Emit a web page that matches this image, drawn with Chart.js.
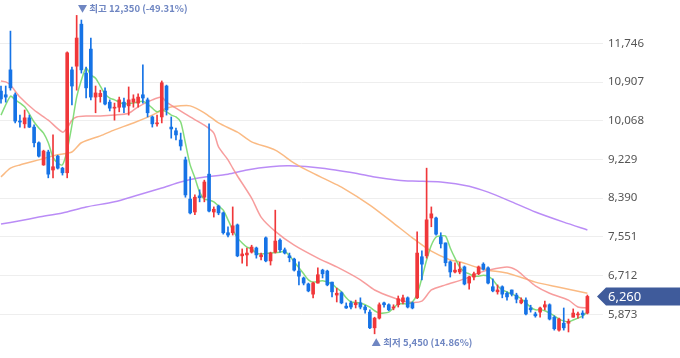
<!DOCTYPE html>
<html>
<head>
<meta charset="utf-8">
<script src="https://cdn.jsdelivr.net/npm/chart.js@4"></script>
<style>
html, body { margin: 0; padding: 0; background: #fff; }
</style>
</head>
<body>
<canvas id="myChart-candle" width="680" height="358"></canvas>
<script>
// 일봉 시가/고가/저가/종가
var candleOpen = [10710,10630,11170,10630,10060,10000,10130,9930,9590,9110,9390,9000,9300,9040,8940,11170,11250,12160,11100,11620,
	10580,10590,10710,10470,10340,10360,10470,10390,10470,10450,10630,10520,10150,10000,10150,10820,9930,9850,9650,9220,
	8370,8090,8440,8410,8910,8090,8220,8070,7640,7640,7810,7140,7160,7220,7310,7120,7530,7030,7220,7480,
	7270,7140,7070,6810,6660,6530,6310,6550,6830,6810,6570,6290,6340,6050,6120,6080,6120,6030,5920,5580,
	5790,6120,6080,6010,6080,6140,6230,6120,6230,7120,7140,7960,7960,7550,7420,7010,6790,6790,6900,6550,
	6680,6750,6960,6880,6470,6360,6470,6330,6400,6290,6120,6180,6010,5880,5920,6030,6080,5810,5530,5680,
	5680,5810,5860,5900,5900];
var candleHigh = [10820,10820,12010,10670,10190,10300,10190,9980,9610,9430,9430,9760,9320,9060,11560,11230,12350,12250,11230,11860,
	10820,10730,10780,10520,10450,10580,10560,10800,10630,10650,11280,10560,10170,10190,10930,10840,10150,9910,9800,9280,
	8850,8460,8570,8780,10000,8200,8240,8090,7770,8200,7830,7290,7310,7370,7330,7200,7550,7220,8130,7510,
	7310,7200,7090,7010,6680,6550,6570,6880,6850,6830,6570,6440,6360,6120,6160,6180,6230,6070,5970,5810,
	6120,6140,6100,6080,6270,6290,6250,6140,7660,7250,9040,8200,7980,7640,7420,7030,6990,7000,6920,6700,
	6790,6920,6990,6900,6640,6510,6490,6360,6400,6330,6230,6230,6070,5920,6030,6160,6100,5840,5790,6010,
	5770,5990,5920,5950,6290];
var candleLow = [10450,10470,10730,10020,9930,9910,9920,9500,9280,9100,8830,8830,9020,8890,8830,10410,10730,11100,10560,10520,
	10240,10470,10410,10280,10080,10260,10240,10190,10360,10360,10450,10150,9930,9950,10020,10190,9690,9650,9430,8410,
	8050,8030,8310,8310,8090,7980,8030,7610,7550,7590,7120,6980,6920,7200,7090,7050,7010,6940,7200,7220,
	7180,7010,6810,6510,6510,6360,6230,6550,6660,6490,6250,6140,6100,6000,5990,6010,5990,5900,5560,5450,
	5770,6030,5950,5970,6030,6100,6010,5990,6210,6620,7090,7770,7590,7310,6920,6680,6770,6750,6510,6420,
	6620,6730,6830,6530,6360,6310,6230,6180,6270,6120,6100,5860,5920,5810,5810,5970,5750,5530,5510,5530,
	5490,5810,5790,5790,5880];
var candleClose = [10540,10580,10780,10060,10040,10130,9930,9590,9300,9410,8910,9070,9040,8940,11540,10820,11860,11170,10780,10580,
	10670,10660,10430,10340,10360,10520,10360,10520,10540,10580,10560,10240,10000,10020,10890,10300,9890,9760,9520,8460,
	8070,8410,8400,8740,8110,8150,8070,7640,7590,7790,7140,7180,7200,7330,7160,7160,7030,7200,7460,7270,
	7200,7100,6830,6700,6550,6380,6550,6730,6750,6510,6360,6330,6120,6010,6030,6120,6030,5970,5580,5790,
	6080,6080,5970,6030,6210,6230,6030,6010,7200,6960,7920,8050,7610,7400,6990,6790,6830,6850,6530,6680,
	6750,6900,6850,6550,6380,6400,6310,6250,6310,6200,6180,5880,5970,5840,6010,6080,5770,5560,5770,5580,
	5720,5900,5880,5860,6260];

// 이동평균선 (읽은 지점의 일자 번호와 값)
var ma5Idx = [0,2,3,5,7,8,9,10,11,12,13,14,15,16,17,18,19,20,21,22,23,24,26,28,30,31,32,33,34,35,36,37,38,39,40,41,42,43,44,45,
	46,47,48,49,50,51,52,53,54,55,57,59,60,61,62,63,64,65,66,68,70,71,72,73,74,76,78,79,80,81,82,83,84,85,86,87,88,89,90,91,
	92,93,94,95,96,97,98,99,100,101,102,103,104,105,106,107,108,109,110,111,112,113,114,115,116,117,118,119,120,121,122,123,124];
var ma5Val = [10190,10600,10520,10370,10040,9910,9800,9590,9280,9150,9110,9430,9970,10580,10950,11210,11060,10990,10820,10650,10560,10520,10430,10450,10490,10430,10340,10260,10300,10260,10190,10150,10040,9580,9110,8830,8520,8370,8350,8310,
	8220,8130,7920,7700,7530,7420,7330,7290,7200,7180,7200,7220,7240,7140,7010,6880,6750,6620,6570,6600,6530,6440,6360,6230,6140,6120,6030,5950,5900,5900,5920,6010,6100,6100,6100,6140,6310,6660,7050,7370,
	7550,7570,7570,7310,7090,6900,6790,6750,6700,6700,6720,6700,6620,6490,6400,6360,6310,6270,6210,6120,6030,5970,5970,5950,5900,5840,5770,5730,5710,5750,5790,5840,5920];
var ma20Idx = [0,1,2,4,7,10,13,14,15,16,18,21,24,27,29,32,34,35,37,40,43,45,46,48,49,50,53,55,58,62,67,71,76,79,83,86,89,91,94,98,101,103,107,109,111,113,116,120,122,124];
var ma20Val = [10930,10910,10840,10580,10300,10080,9820,9910,10080,10150,10170,10170,10190,10230,10370,10520,10580,10470,10340,10150,9970,9800,9500,9220,9040,8870,8390,7980,7670,7370,7090,6900,6620,6400,6230,6140,6160,6400,6510,6640,6770,6830,6900,6830,6660,6490,6330,6180,6030,6010];
var ma60Idx = [0,2,4,8,12,15,17,21,24,28,32,35,38,40,43,46,50,53,58,62,65,69,72,78,83,87,91,95,97,101,103,107,113,118,124];
var ma60Val = [8850,9040,9110,9220,9330,9390,9590,9740,9870,10020,10190,10340,10390,10390,10240,10020,9820,9610,9430,9150,8980,8780,8630,8240,7850,7530,7240,7050,7010,6880,6830,6770,6570,6460,6330];
var ma120Idx = [0,4,8,13,18,24,29,34,38,42,48,52,57,61,68,75,79,84,87,93,99,103,108,113,119,124];
var ma120Val = [7830,7900,7980,8070,8200,8310,8460,8610,8740,8830,8910,9000,9070,9090,9040,8930,8850,8780,8760,8740,8650,8520,8310,8090,7870,7700];

var yTicks = [5873, 6712, 7551, 8390, 9229, 10068, 10907, 11746];
var hiText = '▼ 최고 12,350 (-49.31%)';
var loText = '▲ 최저 5,450 (14.86%)';

var upColor = '#f0373a';
var downColor = '#1673e6';

function pairs(idx, val) {
	var out = [];
	for (var i = 0; i < idx.length; i++) {
		out.push({x: idx[i], y: val[i]});
	}
	return out;
}

var wickData = [], bodyData = [], candleColors = [];
for (var i = 0; i < candleOpen.length; i++) {
	wickData.push({x: i, y: [candleLow[i], candleHigh[i]]});
	bodyData.push({x: i, y: [candleOpen[i], candleClose[i]]});
	candleColors.push(candleClose[i] >= candleOpen[i] ? upColor : downColor);
}

var hiIndex = candleHigh.indexOf(Math.max.apply(null, candleHigh));
var loIndex = candleLow.indexOf(Math.min.apply(null, candleLow));
var lastClose = candleClose[candleClose.length - 1];

var markPlugin = {
	id: 'marks',
	afterDatasetsDraw: function(chart) {
		var ctx = chart.ctx;
		var xs = chart.scales.x, ys = chart.scales.y;
		var area = chart.chartArea;
		ctx.save();
		ctx.font = 'bold 9.5px "Noto Sans CJK KR", "Noto Sans", sans-serif';
		ctx.fillStyle = '#6f86c2';
		ctx.textBaseline = 'middle';
		ctx.textAlign = 'left';
		ctx.fillText(hiText, xs.getPixelForValue(hiIndex) + 1, ys.getPixelForValue(candleHigh[hiIndex]) - 7);
		ctx.fillText(loText, xs.getPixelForValue(loIndex) - 3, ys.getPixelForValue(candleLow[loIndex]) + 9);

		// 현재가 표시
		var py = ys.getPixelForValue(lastClose);
		ctx.fillStyle = '#3f5b9b';
		ctx.beginPath();
		ctx.moveTo(area.right - 6, py);
		ctx.lineTo(area.right + 3, py - 9);
		ctx.lineTo(chart.width, py - 9);
		ctx.lineTo(chart.width, py + 9);
		ctx.lineTo(area.right + 3, py + 9);
		ctx.closePath();
		ctx.fill();
		ctx.fillStyle = '#ffffff';
		ctx.font = '13px "Noto Sans", sans-serif';
		ctx.fillText(lastClose.toLocaleString('en-US'), area.right + 5, py + 1);
		ctx.restore();
	}
};

var config = {
	type: 'bar',
	data: {
		datasets: [
			{ label: 'body', data: bodyData, backgroundColor: candleColors, barThickness: 3, minBarLength: 1, grouped: false, order: 0 },
			{ label: 'wick', data: wickData, backgroundColor: candleColors, barThickness: 1, grouped: false, order: 0 },
			{ type: 'line', label: 'ma5', data: pairs(ma5Idx, ma5Val), borderColor: 'rgba(110, 214, 100, 0.85)', borderWidth: 1.5, pointRadius: 0, tension: 0.25, order: 1 },
			{ type: 'line', label: 'ma20', data: pairs(ma20Idx, ma20Val), borderColor: 'rgba(246, 140, 140, 0.85)', borderWidth: 1.5, pointRadius: 0, tension: 0.25, order: 2 },
			{ type: 'line', label: 'ma60', data: pairs(ma60Idx, ma60Val), borderColor: 'rgba(250, 178, 118, 0.9)', borderWidth: 1.5, pointRadius: 0, tension: 0.25, order: 3 },
			{ type: 'line', label: 'ma120', data: pairs(ma120Idx, ma120Val), borderColor: 'rgba(178, 128, 245, 0.9)', borderWidth: 1.5, pointRadius: 0, tension: 0.25, order: 4 }
		]
	},
	options: {
		responsive: false,
		animation: false,
		devicePixelRatio: 1,
		layout: { padding: 0 },
		plugins: {
			legend: { display: false },
			tooltip: { enabled: false }
		},
		datasets: {
			bar: { borderWidth: 0, borderSkipped: false }
		},
		scales: {
			x: {
				type: 'linear',
				display: false,
				offset: false,
				bounds: 'ticks',
				min: -0.21,
				max: 127.3
			},
			y: {
				position: 'right',
				min: 4926,
				max: 12684,
				afterBuildTicks: function(scale) {
					scale.ticks = yTicks.map(function(v) { return {value: v}; });
				},
				afterFit: function(scale) {
					// 차트 영역이 캔버스 위아래 끝까지 가도록
					scale.width = 77;
					scale.paddingTop = 0;
					scale.paddingBottom = 0;
				},
				grid: { color: '#eeeeee', drawTicks: false },
				border: { display: false },
				ticks: {
					padding: 5,
					color: '#555555',
					font: { size: 11.5, family: '"Noto Sans", sans-serif' },
					callback: function(v) { return Number(v).toLocaleString('en-US'); }
				}
			}
		}
	},
	plugins: [markPlugin]
};

window.candle_chart = new Chart(document.getElementById('myChart-candle'), config);
</script>
</body>
</html>
